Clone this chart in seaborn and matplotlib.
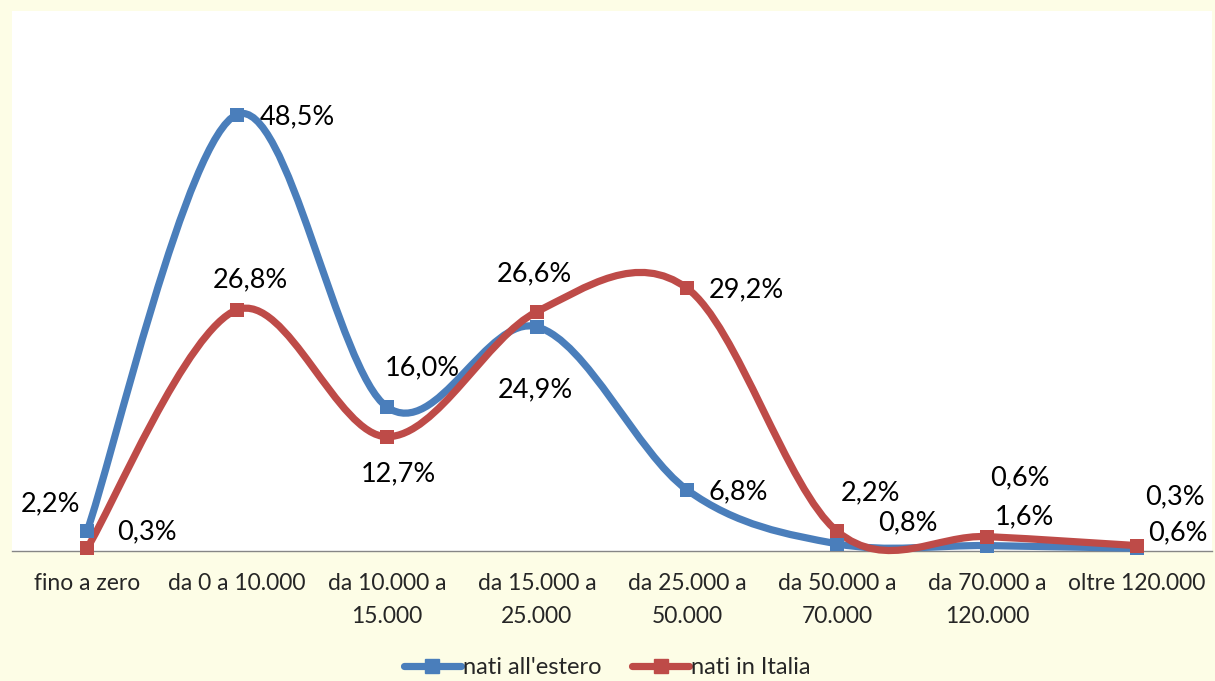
import numpy as np
import pandas as pd
import matplotlib
matplotlib.use('Agg')
import matplotlib.pyplot as plt
import seaborn as sns
from matplotlib.path import Path
from matplotlib.patches import PathPatch
from matplotlib.lines import Line2D

# ==========================================
# 数据
# ==========================================
categories = ['fino a zero', 'da 0 a 10.000', 'da 10.000 a\n15.000', 'da 15.000 a\n25.000',
              'da 25.000 a\n50.000', 'da 50.000 a\n70.000', 'da 70.000 a\n120.000', 'oltre 120.000']
estero = [2.2, 48.5, 16.0, 24.9, 6.8, 0.8, 0.6, 0.3]
italia = [0.3, 26.8, 12.7, 26.6, 29.2, 2.2, 1.6, 0.6]
series_names = ["nati all'estero", "nati in Italia"]

# 标签偏移 (像素)
off_estero = [(-37, 27), (60, -2), (35, 39), (-2, -63), (51, -2), (71, 21), (33, 68), (38, 51)]
off_italia = [(60, 16), (13, 30), (11, -37), (-3, 38), (59, -2), (33, 38), (37, 20), (41, 13)]

blue = '#4A7EBB'
red = '#BE4B48'

sns.set_style('white')
plt.rcParams['font.family'] = ['Lato', 'DejaVu Sans']

fig = plt.figure(figsize=(12.15, 6.81), dpi=100, facecolor='#FDFDE6')
ax = fig.add_axes([12 / 1215, 1 - 551 / 681, 1200 / 1215, 540 / 681])
ax.set_facecolor('white')


def smooth_path(xs, ys):
    # Excel 风格平滑线 (Catmull-Rom -> Bezier)
    pts = np.column_stack([xs, ys]).astype(float)
    n = len(pts)
    verts = [pts[0]]
    codes = [Path.MOVETO]
    for i in range(n - 1):
        p0 = pts[i - 1] if i > 0 else pts[i]
        p1 = pts[i]
        p2 = pts[i + 1]
        p3 = pts[i + 2] if i + 2 < n else pts[i + 1]
        c1 = p1 + (p2 - p0) / 6.0
        c2 = p2 - (p3 - p1) / 6.0
        verts += [c1, c2, p2]
        codes += [Path.CURVE4] * 3
    return Path(verts, codes)


x = np.arange(len(categories))
df = pd.DataFrame({
    'x': np.concatenate([x, x]),
    'val': estero + italia,
    'serie': [series_names[0]] * len(x) + [series_names[1]] * len(x),
})

for vals, col, name in [(estero, blue, series_names[0]), (italia, red, series_names[1])]:
    patch = PathPatch(smooth_path(x, vals), facecolor='none', edgecolor=col, lw=5.2,
                      capstyle='round', joinstyle='round', clip_on=False, zorder=3)
    ax.add_patch(patch)
    sns.scatterplot(data=df[df['serie'] == name], x='x', y='val',
                    marker='s', s=110, color=col, edgecolor=col, linewidth=0, ax=ax,
                    clip_on=False, zorder=4, legend=False)

for vals, offs in [(estero, off_estero), (italia, off_italia)]:
    for xi, v, (dx, dy) in zip(x, vals, offs):
        ax.annotate(f"{v:.1f}".replace('.', ',') + '%', (xi, v), xytext=(dx, dy),
                    textcoords='offset pixels', ha='center', va='center', fontsize=19.5,
                    color='black', zorder=5)

ax.set_xlim(-0.5, len(categories) - 0.5)
ax.set_ylim(0, 60)
ax.set_yticks([])
ax.set_xticks(np.arange(len(categories) + 1) - 0.5, minor=False)
ax.set_xticklabels([])
ax.set_xticks(x, minor=True)
ax.set_xticklabels(categories, minor=True, fontsize=16.5, linespacing=1.7)
ax.tick_params(axis='x', which='major', direction='out', length=7, width=1, color='#868686')
ax.tick_params(axis='x', which='minor', length=0, pad=16)
for tl in ax.get_xticklabels(minor=True):
    tl.set_verticalalignment('top')
ax.set_xlabel('')
ax.set_ylabel('')
for s in ['left', 'right', 'top']:
    ax.spines[s].set_visible(False)
ax.spines['bottom'].set_color('#868686')
ax.spines['bottom'].set_linewidth(1)

handles = [Line2D([0], [0], color=blue, lw=5.2, marker='s', markersize=10),
           Line2D([0], [0], color=red, lw=5.2, marker='s', markersize=10)]
fig.legend(handles, series_names, loc='center', bbox_to_anchor=(0.5, 1 - 668 / 681), ncol=2,
           frameon=False, fontsize=17, handlelength=2.4, handletextpad=0.1, columnspacing=1.3)

fig.savefig('out.png', dpi=100, facecolor=fig.get_facecolor())
